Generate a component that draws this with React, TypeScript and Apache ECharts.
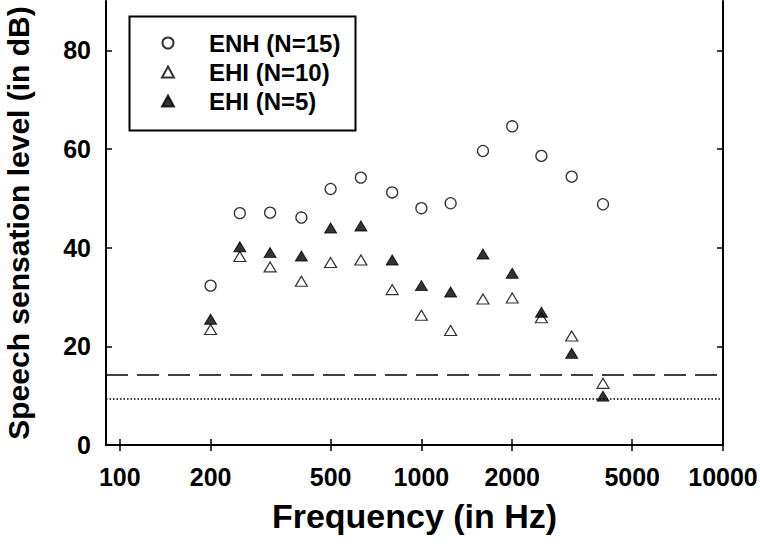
import React, { useEffect, useRef } from "react";
import * as echarts from "echarts";

const frequencies = [200, 250, 315, 400, 500, 630, 800, 1000, 1250, 1600, 2000, 2500, 3150, 4000];
const enh15 = [32.3, 47.0, 47.1, 46.1, 51.9, 54.2, 51.2, 48.0, 49.0, 59.6, 64.6, 58.6, 54.4, 48.8];
const ehi10 = [23.4, 38.2, 36.1, 33.2, 37.0, 37.5, 31.5, 26.3, 23.2, 29.6, 29.8, 25.8, 22.1, 12.5];
const ehi5 = [25.5, 40.2, 39.0, 38.3, 44.0, 44.4, 37.5, 32.3, 31.0, 38.7, 34.8, 26.9, 18.6, 9.9];
const xTicks = [100, 200, 500, 1000, 2000, 5000, 10000];
const yTicks = [0, 20, 40, 60, 80];
const dashedLevel = 14.2;
const dottedLevel = 9.3;
const seriesNames = ["ENH (N=15)", "EHI (N=10)", "EHI (N=5)"];

const FONT = "'Liberation Sans', Arial, sans-serif";

export default function App() {
  const ref = useRef<HTMLDivElement>(null);
  useEffect(() => {
    if (!ref.current) return;
    const chart = echarts.init(ref.current, null, { renderer: "svg" });
    const pts = (vals: number[]) => frequencies.map((f, i) => [f, vals[i]]);
    const xBase = {
      type: "log" as const,
      logBase: 10,
      min: 90,
      max: 10000,
      splitLine: { show: false },
      axisLine: { show: true, lineStyle: { color: "#000", width: 2 } },
      axisTick: { show: true, inside: true, length: 6, customValues: xTicks, lineStyle: { color: "#000", width: 1.5 } },
      minorTick: { show: false },
    };
    const yBase = {
      type: "value" as const,
      min: 0,
      max: 90,
      splitLine: { show: false },
      axisLine: { show: true, lineStyle: { color: "#000", width: 2 } },
      axisTick: { show: true, inside: true, length: 6, customValues: yTicks, lineStyle: { color: "#000", width: 1.5 } },
    };
    chart.setOption({
      animation: false,
      backgroundColor: "#fff",
      grid: { left: 106, right: 37, top: 1, bottom: 101, containLabel: false, outerBoundsMode: "none" },
      xAxis: [
        {
          ...xBase,
          position: "bottom",
          name: "Frequency (in Hz)",
          nameLocation: "middle",
          nameGap: 54,
          nameTextStyle: { fontSize: 34, fontWeight: "bold", fontFamily: FONT, color: "#000" },
          axisLabel: {
            customValues: xTicks,
            margin: 19,
            fontSize: 25,
            fontWeight: "bold",
            fontFamily: FONT,
            color: "#000",
            formatter: (v: number) => String(Math.round(v)),
          },
        },
        { ...xBase, position: "top", axisLabel: { show: false } },
      ],
      yAxis: [
        {
          ...yBase,
          position: "left",
          name: "Speech sensation level (in dB)",
          nameLocation: "middle",
          nameGap: 73,
          nameTextStyle: { fontSize: 30, fontWeight: "bold", fontFamily: FONT, color: "#000" },
          axisLabel: {
            customValues: yTicks,
            margin: 15,
            fontSize: 25,
            fontWeight: "bold",
            fontFamily: FONT,
            color: "#000",
          },
        },
        { ...yBase, position: "right", axisLabel: { show: false } },
      ],
      legend: {
        orient: "vertical",
        left: 161,
        top: 31,
        padding: 0,
        itemGap: 5,
        itemWidth: 12,
        itemHeight: 11,
        data: seriesNames,
        textStyle: {
          fontSize: 24,
          lineHeight: 24,
          fontWeight: "bold",
          fontFamily: FONT,
          color: "#000",
          padding: [0, 0, 0, 30],
        },
      },
      graphic: [
        {
          type: "rect",
          left: 127,
          top: 14,
          shape: { width: 226, height: 114 },
          style: { fill: "none", stroke: "#000", lineWidth: 2 },
          z: 1,
          silent: true,
        },
      ],
      series: [
        {
          name: seriesNames[0],
          type: "scatter",
          symbol: "circle",
          symbolSize: 11,
          itemStyle: { color: "#fff", borderColor: "#000", borderWidth: 1.3 },
          data: pts(enh15),
          markLine: {
            silent: true,
            symbol: ["none", "none"],
            label: { show: false },
            data: [
              { yAxis: dashedLevel, lineStyle: { color: "#000", width: 1.5, type: [22, 9] } },
              { yAxis: dottedLevel, lineStyle: { color: "#000", width: 1.5, type: [1.5, 2] } },
            ],
          },
        },
        {
          name: seriesNames[1],
          type: "scatter",
          symbol: "triangle",
          symbolSize: [12, 10],
          itemStyle: { color: "#fff", borderColor: "#000", borderWidth: 1.2 },
          data: pts(ehi10),
        },
        {
          name: seriesNames[2],
          type: "scatter",
          symbol: "triangle",
          symbolSize: [12, 10],
          itemStyle: { color: "#000", borderColor: "#000", borderWidth: 1 },
          data: pts(ehi5),
        },
      ],
    });
    return () => chart.dispose();
  }, []);
  return <div ref={ref} style={{ width: 760, height: 546, position: "absolute", left: 0, top: 0 }} />;
}
